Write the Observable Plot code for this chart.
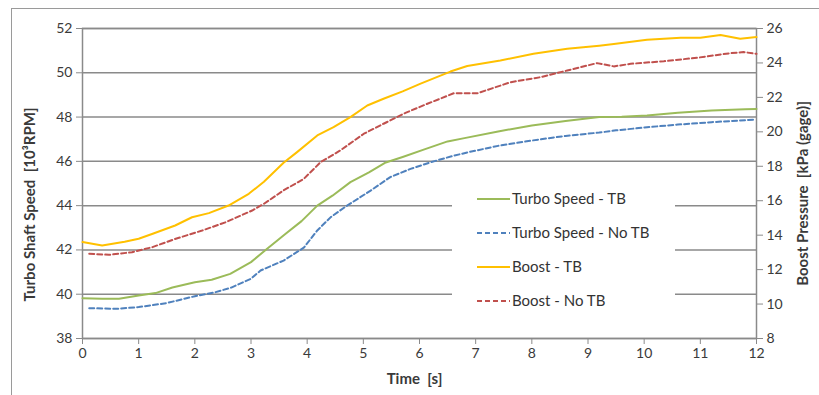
<!DOCTYPE html>
<html>
<head>
<meta charset="utf-8">
<script src="https://cdn.jsdelivr.net/npm/d3@7"></script>
<script src="https://cdn.jsdelivr.net/npm/@observablehq/plot@0.6"></script>
<style>
  body { margin: 0; background: #fff; font-family: Lato, "Open Sans", sans-serif; }
  #wrap { position: relative; width: 819px; height: 395px; overflow: hidden; }
  #border { position: absolute; left: 11px; top: 8px; width: 900px; height: 500px;
            border-left: 1.5px solid #9a9a9a; border-top: 1.5px solid #9a9a9a; box-sizing: border-box; }
  #chart { position: absolute; left: 0; top: 0; }
  #legend { position: absolute; left: 452px; top: 182px; width: 223px; height: 136px; background: #fff; }
  .row { position: relative; height: 34px; }
  .row svg { position: absolute; left: 25px; top: 15px; }
  .row span { position: absolute; left: 60px; top: 7px; font-size: 15px; color: #333; line-height: 18px; white-space: nowrap; }
</style>
</head>
<body>
<div id="wrap">
  <div id="border"></div>
  <div id="chart"></div>
  <div id="legend"></div>
</div>
<script>
// ---- data ----
const timeTicks = [0,1,2,3,4,5,6,7,8,9,10,11,12];
const speedTicks = [38,40,42,44,46,48,50,52];
const boostTicks = [8,10,12,14,16,18,20,22,24,26];

const seriesNames = ["Turbo Speed - TB", "Turbo Speed - No TB", "Boost - TB", "Boost - No TB"];
const seriesColors = ["#9bbb59", "#4f81bd", "#ffc000", "#c0504d"];
const seriesDash = [null, "5,3", null, "5,3"];

// Turbo speed with TB [10^3 RPM]
const speedTbT = [0,0.35,0.65,1.0,1.3,1.6,2.0,2.3,2.63,3.0,3.26,3.6,3.9,4.18,4.45,4.77,5.1,5.4,5.7,6.1,6.5,6.8,7.4,8.0,8.6,9.2,9.6,10.05,10.6,11.2,11.8,12.0];
const speedTbV = [39.82,39.80,39.80,39.94,40.05,40.3,40.54,40.65,40.92,41.45,42.0,42.7,43.3,44.0,44.45,45.06,45.5,45.95,46.2,46.55,46.9,47.05,47.35,47.62,47.82,48.0,48.02,48.07,48.2,48.3,48.35,48.37];
// Turbo speed without TB
const speedNoT = [0.12,0.6,1.0,1.5,2.0,2.35,2.65,3.0,3.17,3.58,3.94,4.18,4.42,4.71,5.13,5.48,5.84,6.2,6.6,6.9,7.4,8.0,8.6,9.2,9.5,10.05,10.6,11.2,11.95];
const speedNoV = [39.37,39.34,39.42,39.6,39.91,40.08,40.3,40.7,41.07,41.52,42.1,42.88,43.48,44.0,44.68,45.29,45.66,45.96,46.25,46.43,46.7,46.94,47.15,47.3,47.4,47.54,47.66,47.77,47.88];
// Boost with TB [kPa gage]
const boostTbT = [0,0.35,0.75,1.0,1.25,1.65,1.95,2.25,2.6,2.96,3.23,3.58,3.82,4.18,4.47,4.77,5.07,5.36,5.7,6.02,6.55,6.85,7.44,8.03,8.63,9.2,9.46,10.05,10.65,11.0,11.36,11.71,12.0];
const boostTbV = [13.6,13.4,13.62,13.79,14.08,14.56,15.04,15.28,15.72,16.4,17.1,18.2,18.82,19.79,20.27,20.85,21.53,21.92,22.35,22.8,23.5,23.82,24.14,24.53,24.82,25.0,25.1,25.35,25.46,25.46,25.62,25.4,25.5];
// Boost without TB
const boostNoT = [0.12,0.47,0.88,1.24,1.66,2.13,2.55,3.02,3.23,3.58,3.94,4.24,4.59,5.01,5.36,5.75,6.14,6.61,7.03,7.62,8.15,8.63,9.16,9.46,9.76,10.35,10.94,11.54,11.77,12.0];
const boostNoV = [12.92,12.86,13.01,13.3,13.79,14.27,14.75,15.43,15.82,16.6,17.27,18.24,18.92,19.89,20.47,21.1,21.63,22.24,22.24,22.88,23.17,23.56,23.99,23.8,23.95,24.1,24.3,24.57,24.63,24.53];

const leftTitle = "Turbo Shaft Speed  [10³RPM]";
const rightTitle = "Boost Pressure  [kPa (gage)]";
const xTitle = "Time  [s]";

// ---- map boost (right axis) onto the speed (left) scale ----
const toLeft = b => 38 + (b - 8) * 14 / 18;
const toBoost = l => 8 + (l - 38) * 18 / 14;

const rows = [];
const add = (ts, vs, i, conv) => ts.forEach((t, k) => rows.push({series: seriesNames[i], t, y: conv(vs[k])}));
add(speedTbT, speedTbV, 0, v => v);
add(speedNoT, speedNoV, 1, v => v);
add(boostTbT, boostTbV, 2, toLeft);
add(boostNoT, boostNoV, 3, toLeft);

const grid = "#8a8a8a";
const txt = "#3a3a3a";

const lineMarks = seriesNames.map((name, i) =>
  Plot.line(rows.filter(d => d.series === name), {
    x: "t", y: "y", stroke: seriesColors[i], strokeWidth: 2,
    strokeDasharray: seriesDash[i] || undefined
  })
);

const chart = Plot.plot({
  width: 819, height: 395,
  marginLeft: 82, marginRight: 63, marginTop: 28, marginBottom: 57,
  style: { fontFamily: "Lato, 'Open Sans', sans-serif", background: "transparent" },
  x: { domain: [0, 12] },
  y: { domain: [38, 52] },
  marks: [
    Plot.gridY(speedTicks, { stroke: grid, strokeOpacity: 1, strokeWidth: 1.5 }),
    Plot.frame({ stroke: grid, strokeWidth: 1.5 }),
    ...lineMarks,
    Plot.axisY(speedTicks, { anchor: "left", tickSize: 6, tickPadding: 4, fontSize: 14, stroke: grid, fill: txt, label: null }),
    Plot.axisY(boostTicks.map(toLeft), { anchor: "right", tickSize: 6, tickPadding: 4, fontSize: 14, stroke: grid, fill: txt, label: null,
      tickFormat: v => String(Math.round(toBoost(v))) }),
    Plot.axisX(timeTicks, { anchor: "bottom", tickSize: 6, tickPadding: 4, fontSize: 14, stroke: grid, fill: txt, label: null }),
    Plot.text([leftTitle], { text: d => d, frameAnchor: "left", textAnchor: "middle", rotate: -90, dx: -52, dy: 21, fontWeight: "bold", fontSize: 15, fill: txt }),
    Plot.text([rightTitle], { text: d => d, frameAnchor: "right", textAnchor: "middle", rotate: -90, dx: 47, dy: 10, fontWeight: "bold", fontSize: 15, fill: txt }),
    Plot.text([xTitle], { text: d => d, frameAnchor: "bottom", dx: -5, dy: 45, fontWeight: "bold", fontSize: 15, fill: txt })
  ]
});
document.getElementById("chart").appendChild(chart);

// ---- legend ----
const legend = document.getElementById("legend");
seriesNames.forEach((name, i) => {
  const row = document.createElement("div");
  row.className = "row";
  row.innerHTML = `<svg width="33" height="4"><line x1="0" y1="2" x2="33" y2="2" stroke="${seriesColors[i]}" stroke-width="2" ${seriesDash[i] ? `stroke-dasharray="${seriesDash[i]}"` : ""}/></svg><span>${name}</span>`;
  legend.appendChild(row);
});
</script>
</body>
</html>
